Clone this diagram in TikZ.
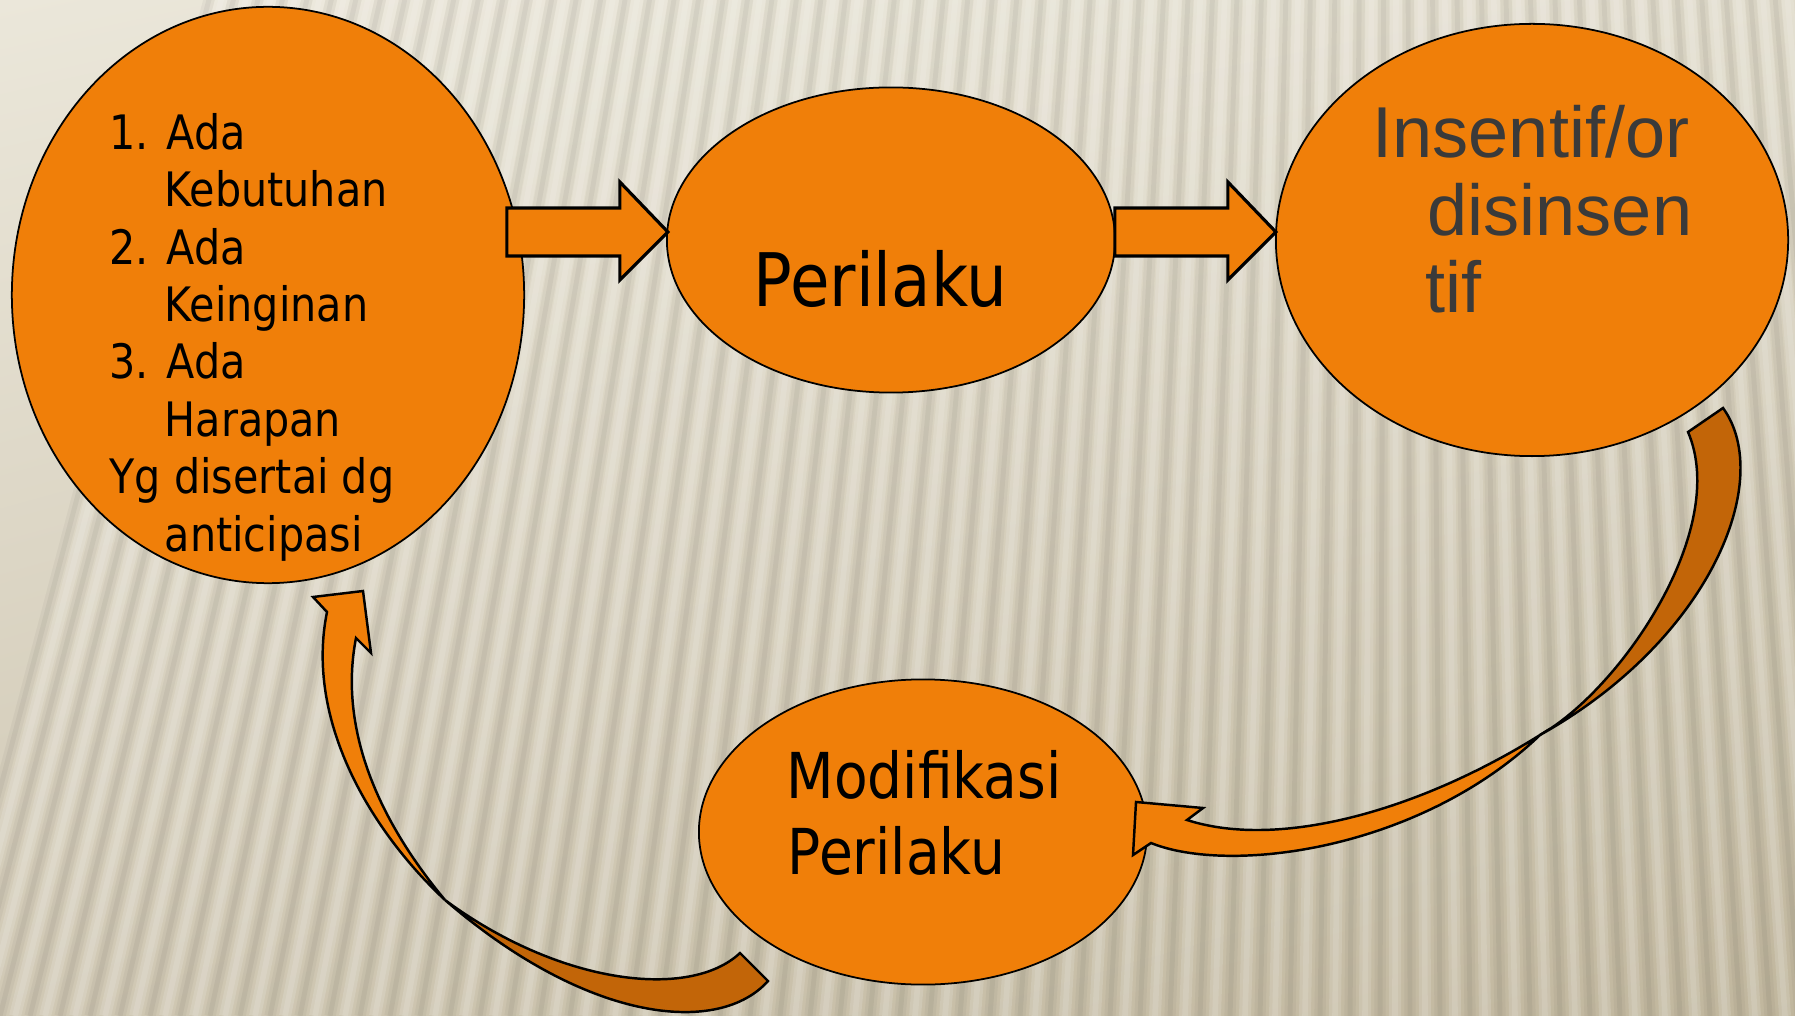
\documentclass[tikz,border=0pt]{standalone}
\usepackage{fontspec}
\setmainfont{DejaVu Sans}[FakeStretch=0.87]
\newfontfamily\insfont{Liberation Sans}
\usetikzlibrary{shapes.geometric,calc,shadings}

\definecolor{oranye}{RGB}{240,127,9}
\definecolor{oranyetua}{RGB}{194,101,8}
\definecolor{abu}{RGB}{58,58,58}
\definecolor{bgA}{RGB}{235,231,218}
\definecolor{bgB}{RGB}{224,219,203}
\definecolor{bgC}{RGB}{208,200,180}
\definecolor{bgD}{RGB}{192,182,157}

% panah blok: ujung di #1, batang ke kiri
\newcommand\panah[1]{\draw[blok] (#1) -- ++(-48,-50) -- ++(0,26) -- ++(-113,0) -- ++(0,48) -- ++(113,0) -- ++(0,24) -- cycle;}

\begin{document}
\begin{tikzpicture}[x=0.01cm,y=-0.01cm,
		bulat/.style={ellipse, draw=black, line width=0.5pt, fill=oranye, inner sep=0pt, outer sep=0pt},
		blok/.style={draw=black, line width=0.9pt, fill=oranye, line join=miter},
		lengkung/.style={draw=black, line width=0.7pt, line join=miter},
		teks/.style={anchor=base west, inner sep=0pt, font=\fontsize{13.5}{16}\selectfont}]
		\useasboundingbox (0,0) rectangle (1795,1016);
		% latar bergaris
		\shade[upper left=bgA, upper right=bgB, lower left=bgC, lower right=bgD] (0,0) rectangle (1795,1016);
		\begin{scope}
			\clip (0,0) rectangle (1795,1016);
			\coordinate (vp) at (1400,-4500);
			\foreach \i in {-2,...,62}{
				\draw[line width=3.2pt, black, opacity=0.035] (vp) -- (\i*30,1016);
				\draw[line width=1.4pt, black, opacity=0.045] (vp) -- (\i*30,1016);
				\draw[line width=3.4pt, white, opacity=0.14] (vp) -- (\i*30+15,1016);
				\draw[line width=1.6pt, white, opacity=0.12] (vp) -- (\i*30+15,1016);
			}
		\end{scope}
		% elips
		\node[bulat, minimum width=5.12cm, minimum height=5.76cm] (sebab) at (268,295) {};
		\node[bulat, minimum width=4.48cm, minimum height=3.05cm] (perilaku) at (891,240) {};
		\node[bulat, minimum width=5.12cm, minimum height=4.32cm] (insentif) at (1532,240) {};
		\node[bulat, minimum width=4.48cm, minimum height=3.05cm] (modifikasi) at (923,832) {};
		% panah lurus
		\coordinate (ujung1) at ($(perilaku.west)+(1,-8)$);
		\coordinate (ujung2) at ($(insentif.west)+(0,-8)$);
		\panah{ujung1}
		\panah{ujung2}
		% panah lengkung insentif -> modifikasi
		\draw[lengkung, fill=oranyetua] (1688,432) -- (1723,408) .. controls (1775,480) and (1710,640) .. (1540,735) .. controls (1620,690) and (1730,530) .. cycle;
		\draw[lengkung, fill=oranye] (1540,735) .. controls (1420,810) and (1280,850) .. (1187,820) -- (1203,808) -- (1136,802) -- (1133,855) -- (1151,843) .. controls (1230,875) and (1420,850) .. cycle;
		% panah lengkung modifikasi -> sebab
		\draw[lengkung, fill=oranyetua] (740,953) -- (768,981) .. controls (720,1035) and (590,1025) .. (445,900) .. controls (560,985) and (690,1000) .. cycle;
		\draw[lengkung, fill=oranye] (445,900) .. controls (370,830) and (305,720) .. (327,612) -- (313,597) -- (363,591) -- (371,653) -- (356,638) .. controls (340,720) and (370,810) .. cycle;
		% teks
		\node[teks] (a1) at (109,150) {1. Ada};
		\node[teks] (a2) at (164,207) {Kebutuhan};
		\node[teks] (a3) at (109,265) {2. Ada};
		\node[teks] (a4) at (164,322) {Keinginan};
		\node[teks] (a5) at (109,379) {3. Ada};
		\node[teks] (a6) at (164,436) {Harapan};
		\node[teks] (a7) at (109,494) {Yg disertai dg};
		\node[teks] (a8) at (164,551) {anticipasi};
		\node[teks, font=\fontsize{21}{25}\selectfont] (b1) at (753,307) {Perilaku};
		\node[teks, font=\insfont\fontsize{20.5}{24}\selectfont, text=abu] (c1) at (1372,158) {Insentif/or};
		\node[teks, font=\insfont\fontsize{20.5}{24}\selectfont, text=abu] (c2) at (1427,236) {disinsen};
		\node[teks, font=\insfont\fontsize{20.5}{24}\selectfont, text=abu] (c3) at (1425,313) {tif};
		\node[teks, font=\fontsize{18}{22}\selectfont] (d1) at (786,798) {Modifikasi};
		\node[teks, font=\fontsize{18}{22}\selectfont] (d2) at (787,874) {Perilaku};
\end{tikzpicture}
\end{document}
